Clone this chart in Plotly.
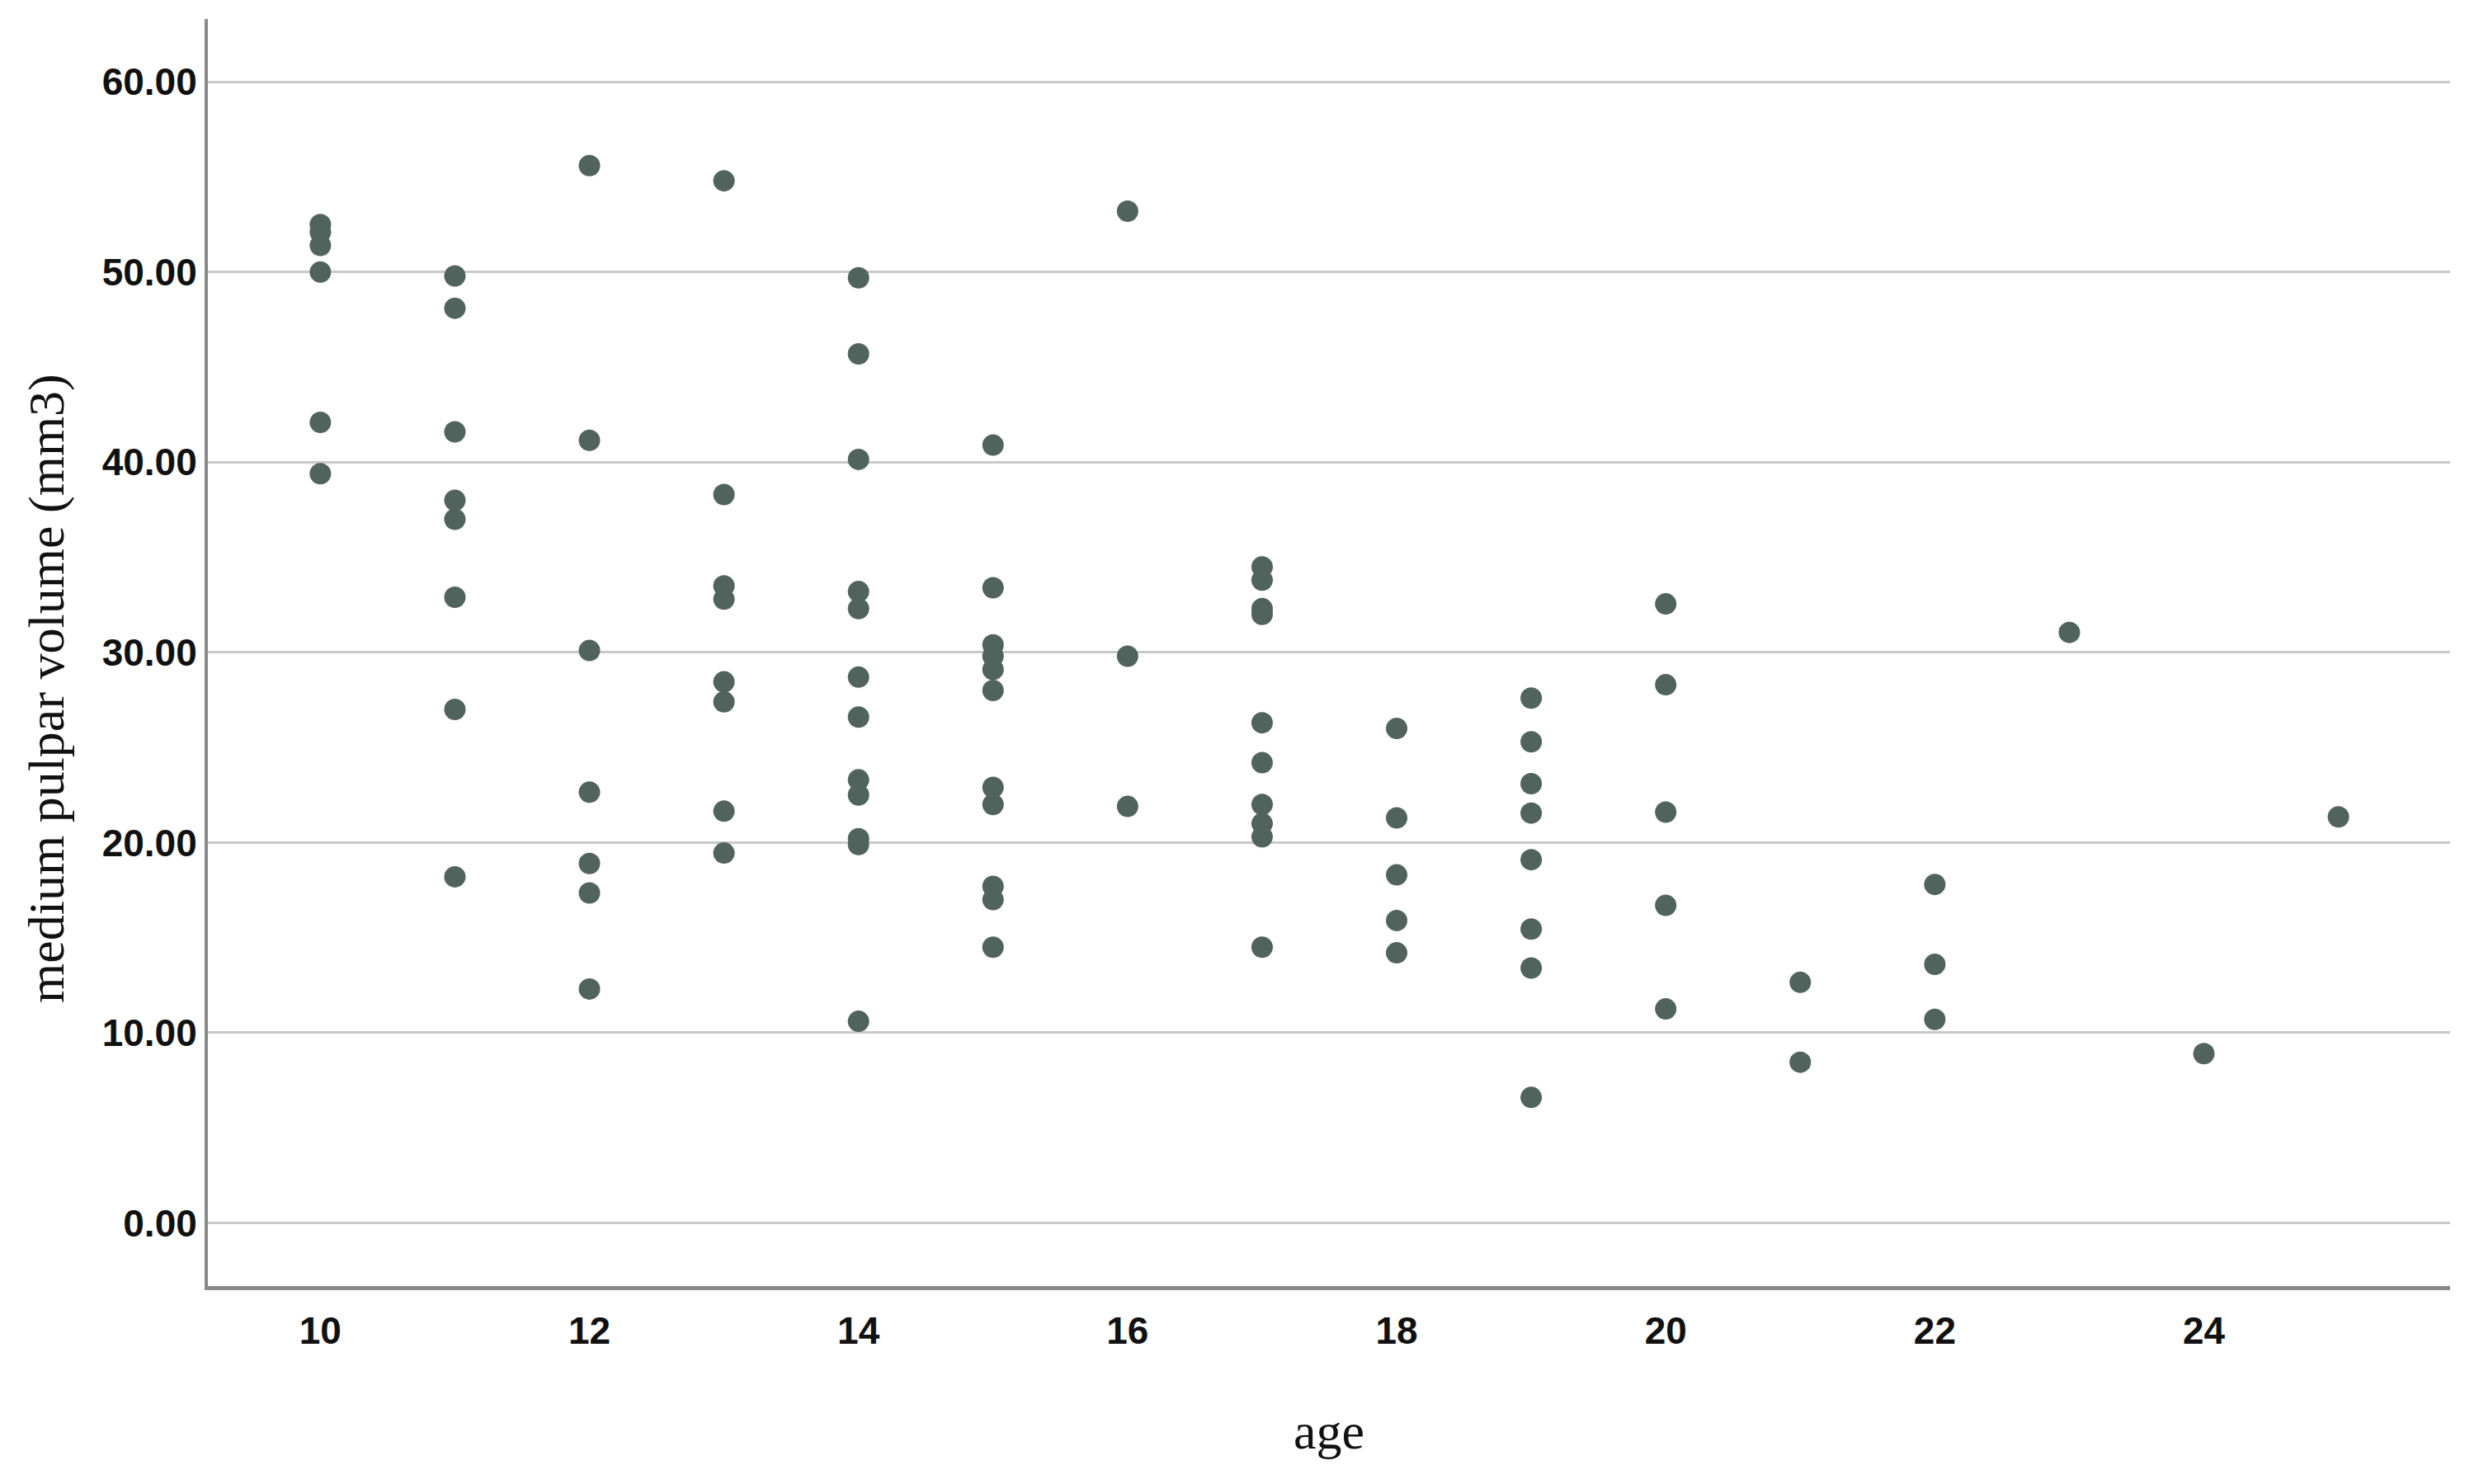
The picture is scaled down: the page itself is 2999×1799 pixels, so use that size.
import plotly.graph_objects as go

# ---- data ----
age_10 = [52.5, 52.1, 51.4, 50.0, 42.1, 39.4]
age_11 = [49.8, 48.1, 41.6, 38.0, 37.0, 32.9, 27.0, 18.2]
age_12 = [55.6, 41.15, 30.1, 22.65, 18.9, 17.35, 12.3]
age_13 = [54.8, 38.3, 33.5, 32.8, 28.45, 27.4, 21.65, 19.45]
age_14 = [49.7, 45.7, 40.15, 33.2, 32.3, 28.7, 26.6, 23.3, 22.5, 20.2, 19.9, 10.6]
age_15 = [40.9, 33.4, 30.4, 29.8, 29.1, 28.0, 22.9, 22.0, 17.7, 17.0, 14.5]
age_16 = [53.2, 29.8, 21.9]
age_17 = [34.5, 33.8, 32.3, 32.0, 26.3, 24.2, 22.0, 21.0, 20.3, 14.5]
age_18 = [26.0, 21.3, 18.3, 15.9, 14.2]
age_19 = [27.6, 25.3, 23.1, 21.55, 19.1, 15.45, 13.4, 6.6]
age_20 = [32.55, 28.3, 21.6, 16.7, 11.25]
age_21 = [12.65, 8.45]
age_22 = [17.8, 13.6, 10.7]
age_23 = [31.05]
age_24 = [8.9]
age_25 = [21.35]

groups = {
    10: age_10, 11: age_11, 12: age_12, 13: age_13, 14: age_14, 15: age_15,
    16: age_16, 17: age_17, 18: age_18, 19: age_19, 20: age_20, 21: age_21,
    22: age_22, 23: age_23, 24: age_24, 25: age_25,
}

x_ticks = [10, 12, 14, 16, 18, 20, 22, 24]
y_ticks = [0, 10, 20, 30, 40, 50, 60]

xs, ys = [], []
for a, vals in groups.items():
    for v in vals:
        xs.append(a)
        ys.append(v)

fig = go.Figure()
fig.add_trace(go.Scatter(
    x=xs, y=ys, mode="markers",
    marker=dict(size=26, color="#51635d", line=dict(width=0)),
    showlegend=False,
))

tick_font = dict(family="Liberation Sans, Arial, sans-serif", size=46, color="#111111", weight="bold")
title_font = dict(family="Liberation Serif, Times New Roman, serif", size=62, color="#111111")

fig.update_layout(
    width=2999, height=1799,
    paper_bgcolor="white", plot_bgcolor="white",
    margin=dict(l=244, r=37, t=15, b=248),
    xaxis=dict(
        range=[9.164, 25.83],
        tickvals=x_ticks, ticktext=[str(t) for t in x_ticks],
        tickfont=tick_font, ticks="", ticklen=0,
        ticklabelstandoff=10,
        showgrid=False, zeroline=False,
        showline=True, linecolor="#8a8a8a", linewidth=5,
        title=dict(text="age", font=title_font, standoff=76),
        automargin=False,
    ),
    yaxis=dict(
        range=[-3.32, 63.31],
        tickvals=y_ticks, ticktext=[f"{t:.2f}" for t in y_ticks],
        tickfont=tick_font, ticks="", ticklen=0,
        showgrid=True, gridcolor="#c9c9c9", gridwidth=3,
        zeroline=False,
        showline=True, linecolor="#8a8a8a", linewidth=4,
        automargin=False,
    ),
    annotations=[dict(
        text="medium pulpar volume (mm3)",
        xref="paper", yref="paper",
        x=-0.0717, y=0.4714,
        xanchor="center", yanchor="middle",
        textangle=-90, showarrow=False,
        font=title_font,
    )],
)

fig.write_html("out.html")
